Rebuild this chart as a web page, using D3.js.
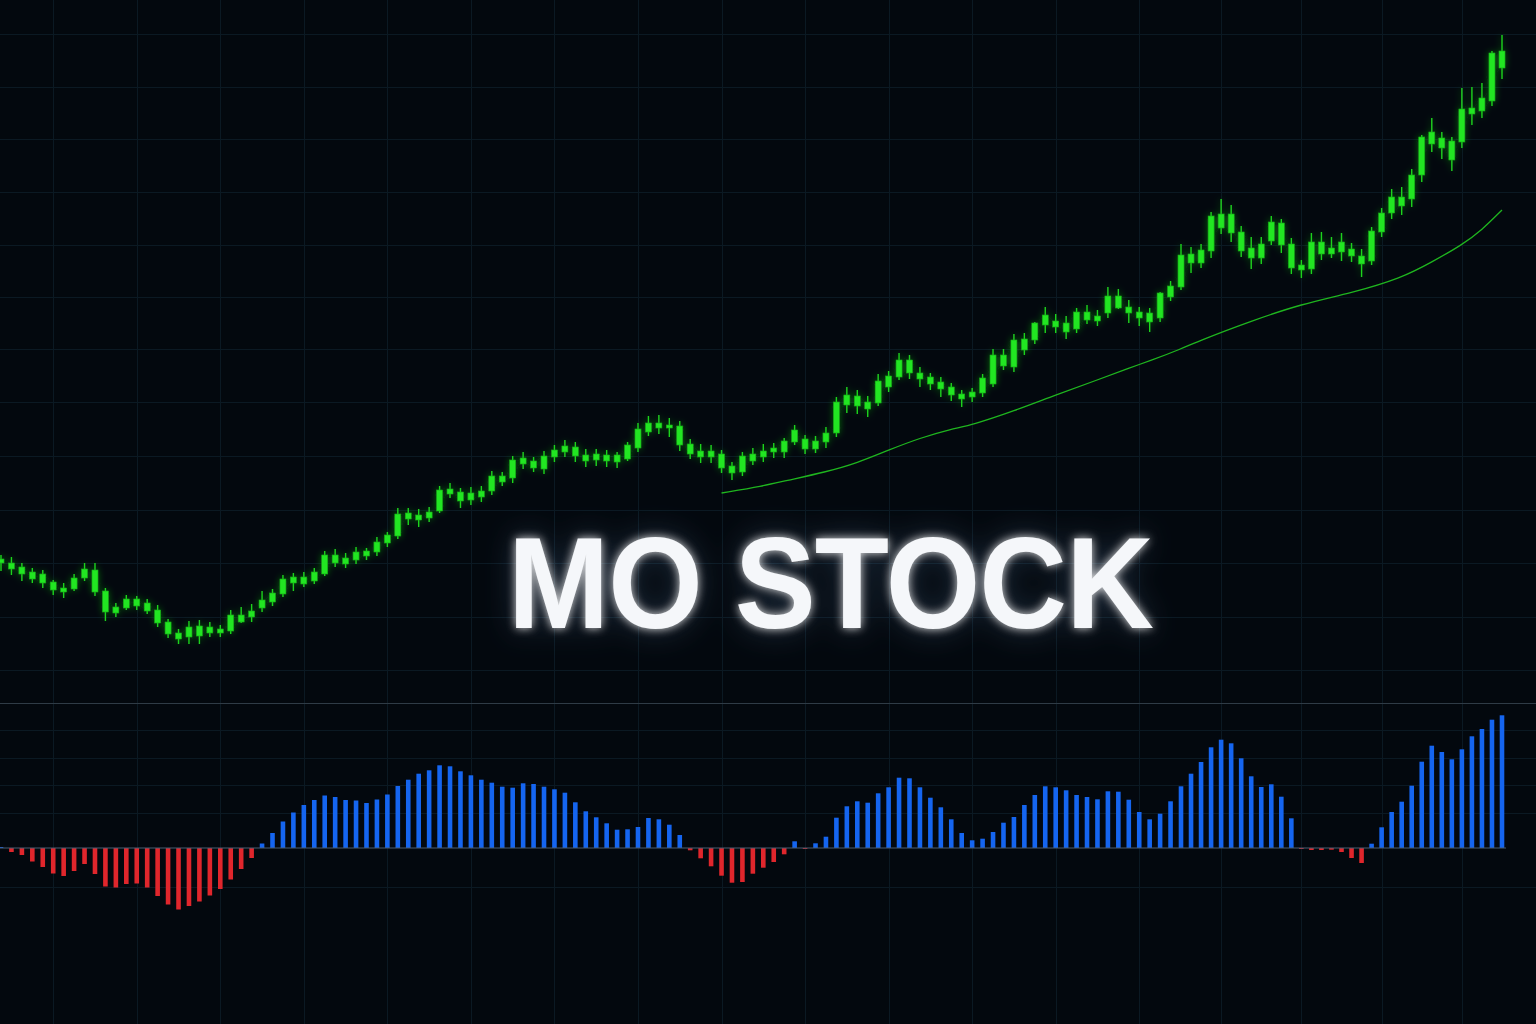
<!DOCTYPE html>
<html><head><meta charset="utf-8">
<script src="https://cdn.jsdelivr.net/npm/d3@7"></script>
<style>html,body{margin:0;padding:0;background:#03080e;overflow:hidden}svg{display:block}</style>
</head><body><svg id="c" width="1536" height="1024"></svg>
<script>
// ---------- DATA ----------
const title = "MO STOCK";
const closeP = [44.1,43.7,43.3,42.8,42.6,41.8,41.2,42.2,43.1,43.0, 40.9,39.3,40.1,40.1,39.7,39.0,37.8,36.7,37.3,37.4, 37.3,37.1,38.5,38.5,38.9,40.0,40.7,42.1,42.3,42.3, 42.8,44.5,44.5,44.2,44.8,44.9,45.8,46.5,48.6,48.7, 48.5,48.8,51.0,51.1,50.8,50.7,50.9,52.4,52.4,54.0, 54.2,53.9,54.4,55.0,55.4,55.3,54.5,54.6,54.5,54.5, 55.5,57.1,57.7,57.7,57.5,57.4,55.6,54.9,54.9,54.6, 53.4,54.4,54.6,54.9,55.2,55.9,57.0,56.1,55.9,56.7, 59.8,60.5,60.4,59.8,61.9,62.4,64.0,64.0,62.7,62.3, 61.8,61.3,60.6,60.8,62.2,64.5,64.5,66.0,66.1,67.7, 68.5,67.9,67.7,68.8,68.8,68.4,70.4,70.4,69.3,68.8, 68.7,70.7,71.4,74.5,74.6,75.0,78.4,78.6,78.6,76.8, 75.2,75.6,77.8,77.7,75.6,73.5,75.8,75.8,75.2,75.8, 75.1,74.4,76.9,78.7,80.3,80.3,82.5,86.3,86.8,86.2, 85.9,89.1,89.2,90.2,94.7,94.9];
const openP = [43.7,43.1,42.6,42.1,41.7,41.0,40.8,41.1,42.2,40.8, 38.8,38.7,39.2,39.4,38.9,37.7,36.6,36.1,36.3,36.4, 36.7,36.7,36.9,37.8,38.3,39.2,39.8,40.6,41.7,41.6, 41.9,42.6,43.7,43.6,44.0,44.4,44.8,45.7,46.4,48.1, 48.0,48.2,48.9,50.6,49.9,50.0,50.3,50.9,51.8,52.2, 53.6,53.2,53.1,54.3,54.8,54.4,53.9,54.0,53.9,53.8, 54.1,55.2,56.8,57.2,57.2,55.5,54.6,54.3,54.3,53.2, 52.7,52.8,53.9,54.3,54.8,54.8,55.8,55.1,55.1,55.8, 56.7,59.5,59.4,59.1,59.7,61.3,62.3,62.7,62.1,61.6, 61.1,60.5,60.1,60.3,60.7,61.6,63.4,63.3,65.0,66.0, 67.5,67.3,66.8,67.1,68.0,67.9,68.7,69.2,68.7,68.2, 67.8,68.2,70.3,71.3,73.7,73.7,74.9,77.2,76.7,74.9, 74.2,74.2,75.9,75.5,73.2,73.0,73.1,74.6,74.6,74.8, 74.4,73.6,73.9,76.8,78.7,79.4,80.1,82.5,85.6,85.2, 84.0,85.8,88.6,88.9,89.9,93.2];
const highP = [44.5,44.3,43.7,43.2,43.0,42.0,41.7,42.6,43.7,43.7, 41.2,39.7,40.5,40.4,40.1,39.5,38.1,37.1,37.9,38.0, 37.8,37.5,39.0,39.3,39.6,40.9,41.1,42.5,42.7,42.8, 43.2,44.9,45.1,44.7,45.3,45.2,46.3,46.8,49.2,49.2, 49.1,49.3,51.4,51.7,51.2,51.3,51.4,52.9,52.8,54.4, 54.8,54.3,54.9,55.5,56.0,55.8,55.1,55.1,55.0,54.8, 55.8,57.7,58.4,58.5,58.2,57.9,56.1,55.6,55.5,55.0, 53.8,54.8,55.2,55.6,55.7,56.2,57.5,56.5,56.4,57.3, 60.3,61.3,61.0,60.4,62.6,62.9,64.7,64.5,63.3,62.7, 62.3,61.7,61.0,61.2,62.6,65.1,65.1,66.6,66.7,67.8, 69.3,68.6,68.4,69.2,69.5,69.0,71.3,71.1,70.0,69.3, 69.2,70.8,71.9,75.6,75.3,75.6,78.8,80.1,79.5,77.4, 76.3,76.3,78.4,78.1,76.2,74.0,76.7,76.8,76.3,76.7, 75.7,75.1,77.3,79.2,81.1,81.3,83.1,86.5,88.2,86.8, 86.3,91.2,91.3,91.7,94.9,96.5];
const lowP = [42.9,42.5,41.9,41.7,41.2,40.5,40.2,40.9,41.9,40.4, 37.9,38.3,39.0,39.0,38.6,37.3,36.2,35.6,35.6,35.6, 36.3,36.3,36.6,37.7,37.8,38.8,39.4,40.3,40.9,41.3, 41.6,42.4,43.3,43.2,43.6,44.0,44.4,45.3,46.1,47.5, 47.3,47.8,48.7,50.2,49.2,49.5,49.8,50.5,51.4,51.7, 53.1,52.8,52.6,53.8,54.3,53.8,53.3,53.4,53.3,53.2, 53.9,54.8,56.4,56.6,56.3,54.9,54.1,53.7,53.7,52.7, 52.0,52.4,53.5,53.8,54.2,54.2,55.5,54.6,54.7,55.2, 56.3,58.7,58.6,58.3,59.4,60.8,62.0,62.1,61.3,61.0, 60.3,59.9,59.3,59.8,60.3,61.3,63.0,62.8,64.5,65.6, 66.7,66.7,66.1,66.7,67.6,67.4,68.2,69.1,67.7,67.4, 66.8,67.8,69.9,71.0,72.7,73.2,74.2,76.6,75.8,74.3, 73.1,73.6,75.5,74.7,72.6,72.2,72.6,74.0,74.2,73.9, 73.8,72.3,73.5,76.3,78.1,78.5,79.3,81.8,84.8,84.1, 82.9,85.2,87.5,88.2,89.4,92.1];
const maIndex = [69,73,75,79,82,85,88,91,93,97,101,105,108,110,113,115,120,125,130,135,138,141,143,145];
const maValue = [50.7,51.4,51.9,52.8,53.7,55.0,56.2,57.1,57.5,58.9,60.5,62.0,63.2,63.9,65.1,66.0,67.9,69.6,70.7,72.2,73.8,75.5,77.0,79.0];
const histValue = [0.01,-0.04,-0.07,-0.135,-0.19,-0.255,-0.28,-0.23,-0.16,-0.26, -0.385,-0.395,-0.36,-0.355,-0.395,-0.48,-0.565,-0.615,-0.58,-0.535, -0.475,-0.41,-0.315,-0.21,-0.10,0.045,0.15,0.265,0.355,0.43, 0.48,0.525,0.51,0.48,0.475,0.45,0.485,0.535,0.62,0.683, 0.743,0.777,0.827,0.817,0.767,0.727,0.683,0.653,0.613,0.603, 0.647,0.64,0.613,0.587,0.553,0.457,0.367,0.307,0.247,0.183, 0.187,0.21,0.30,0.287,0.233,0.13,-0.023,-0.103,-0.183,-0.277, -0.347,-0.34,-0.257,-0.197,-0.14,-0.063,0.067,-0.01,0.047,0.113, 0.303,0.417,0.467,0.453,0.547,0.607,0.703,0.697,0.607,0.503, 0.407,0.287,0.15,0.077,0.093,0.16,0.253,0.31,0.43,0.53, 0.617,0.607,0.577,0.53,0.51,0.487,0.567,0.563,0.483,0.36, 0.287,0.343,0.467,0.617,0.743,0.86,1.007,1.083,1.047,0.897, 0.717,0.61,0.637,0.513,0.297,-0.01,-0.02,-0.02,-0.017,-0.04, -0.10,-0.15,0.043,0.207,0.36,0.463,0.623,0.863,1.023,0.96, 0.887,0.987,1.117,1.19,1.283,1.327];
const priceGrid = [96.57,91.33,86.07,80.77,75.5,70.3,65.07,59.75,54.4,49.05,43.7,38.33,33.0];
const histGrid = [1.18,0.905,0.63,0.355,-0.39];
const gridIndex = d3.range(5, 146, 8);

// ---------- SETUP ----------
const W = 1536, H = 1024;
const svg = d3.select("#c");
const idx = d3.range(closeP.length);
const x = d3.scaleLinear().domain([0, 113, 145]).range([1, 1181, 1502]);
const y = d3.scaleLinear().domain([0, 100]).range([1000, 0]);
const yh = d3.scaleLinear().domain([0, 1]).range([848, 748]);

const defs = svg.append("defs");
const fg = defs.append("filter").attr("id","cglow").attr("x","-100%").attr("y","-20%").attr("width","300%").attr("height","140%");
fg.append("feGaussianBlur").attr("in","SourceGraphic").attr("stdDeviation",3.5).attr("result","b");
fg.append("feComponentTransfer").attr("in","b").attr("result","b2").append("feFuncA").attr("type","linear").attr("slope",0.45);
const fm = fg.append("feMerge"); fm.append("feMergeNode").attr("in","b2"); fm.append("feMergeNode").attr("in","SourceGraphic");

const tg = defs.append("filter").attr("id","tglow").attr("x","-20%").attr("y","-60%").attr("width","140%").attr("height","220%");
tg.append("feGaussianBlur").attr("in","SourceAlpha").attr("stdDeviation",16).attr("result","wide");
tg.append("feFlood").attr("flood-color","#6f9ccc").attr("flood-opacity",0.32).attr("result","c1");
tg.append("feComposite").attr("in","c1").attr("in2","wide").attr("operator","in").attr("result","g1");
tg.append("feGaussianBlur").attr("in","SourceAlpha").attr("stdDeviation",5).attr("result","near");
tg.append("feFlood").attr("flood-color","#ffffff").attr("flood-opacity",0.85).attr("result","c2");
tg.append("feComposite").attr("in","c2").attr("in2","near").attr("operator","in").attr("result","g2");
const tm = tg.append("feMerge");
tm.append("feMergeNode").attr("in","g1"); tm.append("feMergeNode").attr("in","g2"); tm.append("feMergeNode").attr("in","SourceGraphic");

svg.append("rect").attr("width",W).attr("height",H).attr("fill","#03080e");

// grid
const grid = svg.append("g").attr("stroke","#0b1923").attr("stroke-width",1);
grid.selectAll("line.v").data(gridIndex).join("line").attr("class","v")
  .attr("x1",d=>Math.round(x(d))+0.5).attr("x2",d=>Math.round(x(d))+0.5).attr("y1",0).attr("y2",H);
grid.selectAll("line.hp").data(priceGrid).join("line").attr("class","hp")
  .attr("x1",0).attr("x2",W).attr("y1",d=>Math.round(y(d))+0.5).attr("y2",d=>Math.round(y(d))+0.5);
grid.selectAll("line.hh").data(histGrid).join("line").attr("class","hh")
  .attr("x1",0).attr("x2",W).attr("y1",d=>Math.round(yh(d))+0.5).attr("y2",d=>Math.round(yh(d))+0.5);

// separator
svg.append("line").attr("x1",0).attr("x2",W).attr("y1",703.5).attr("y2",703.5).attr("stroke","#2f3b46").attr("stroke-width",1);

// moving average
svg.append("path").datum(maIndex.map((d,i)=>[d,maValue[i]]))
  .attr("fill","none").attr("stroke","#1fb51f").attr("stroke-width",1.3)
  .attr("d", d3.line().x(d=>x(d[0])).y(d=>y(d[1])).curve(d3.curveBasis));

// candles
const cg = svg.append("g").attr("filter","url(#cglow)");
cg.selectAll("line.w").data(idx).join("line").attr("class","w")
  .attr("x1",i=>x(i)).attr("x2",i=>x(i)).attr("y1",i=>y(highP[i])).attr("y2",i=>y(lowP[i]))
  .attr("stroke","#1ed41e").attr("stroke-width",1.4);
const bw = 6;
cg.selectAll("rect.b").data(idx).join("rect").attr("class","b")
  .attr("x",i=>x(i)-bw/2).attr("width",bw)
  .attr("y",i=>y(Math.max(openP[i],closeP[i])))
  .attr("height",i=>Math.max(1.5, Math.abs(y(openP[i])-y(closeP[i]))))
  .attr("fill","#22e622").attr("stroke","#17a817").attr("stroke-width",0.6);

// histogram
const hw = 4.6;
svg.append("g").selectAll("rect").data(idx).join("rect")
  .attr("x",i=>x(i)-hw/2).attr("width",hw)
  .attr("y",i=>histValue[i]>=0 ? yh(histValue[i]) : yh(0))
  .attr("height",i=>Math.max(1, Math.abs(yh(histValue[i])-yh(0))))
  .attr("fill",i=>histValue[i]>=0 ? "#1565f0" : "#e0262c");
svg.append("line").attr("x1",0).attr("x2",1506).attr("y1",yh(0)).attr("y2",yh(0))
  .attr("stroke","#4a5c70").attr("stroke-width",1.2);

// title
const t = svg.append("text").text(title)
  .attr("x",0).attr("y",0)
  .attr("font-family","'Liberation Sans', Arial, sans-serif").attr("font-weight","bold")
  .attr("font-size",129).attr("fill","#f5f7fa").attr("letter-spacing",-1)
  .attr("filter","url(#tglow)");
const bb = t.node().getBBox();
const targetW = 645, sx = targetW / bb.width;
t.attr("transform", `translate(${508 - bb.x*sx},628) scale(${sx},1)`);
</script></body></html>
